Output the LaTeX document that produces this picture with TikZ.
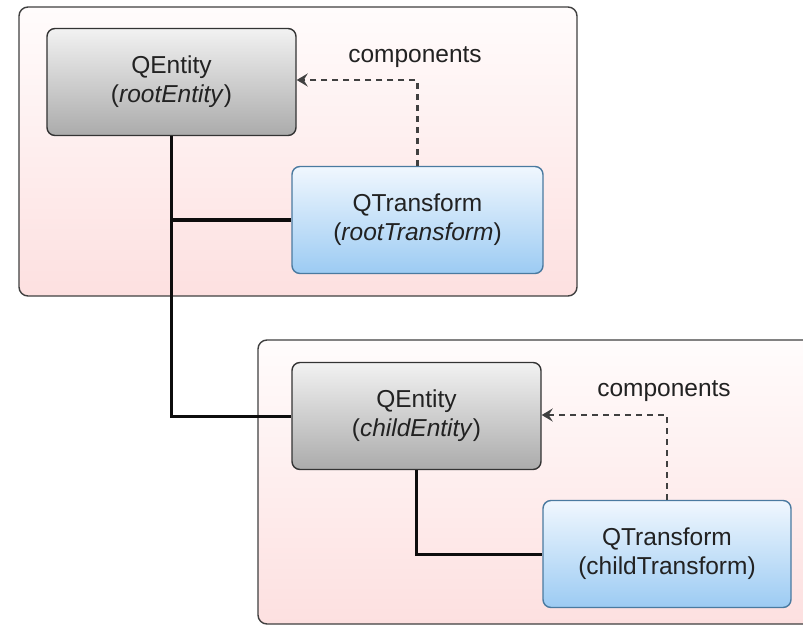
\documentclass[tikz,border=0pt]{standalone}
\usepackage{fontspec}
\setmainfont{Liberation Sans}
\usetikzlibrary{arrows.meta}
\definecolor{txt}{HTML}{222222}
\definecolor{greytop}{HTML}{F2F2F2}
\definecolor{greybot}{HTML}{ABABAB}
\definecolor{bluetop}{HTML}{F0F7FE}
\definecolor{bluebot}{HTML}{9CCBF3}
\definecolor{blueline}{HTML}{4A7AA0}
\definecolor{pinktop}{HTML}{FFFCFC}
\definecolor{pinkbot}{HTML}{FDE0E0}
\tikzset{
  frame/.style={draw=black!75, line width=1.4bp, rounded corners=9bp, top color=pinktop, bottom color=pinkbot},
  entitybox/.style={draw=black!80, line width=1.4bp, rounded corners=8bp, top color=greytop, bottom color=greybot,
    minimum width=249bp, minimum height=107bp, align=center, text=txt, inner sep=0pt,
    font=\fontsize{24.5bp}{29bp}\selectfont},
  transformbox/.style={entitybox, draw=blueline, top color=bluetop, bottom color=bluebot},
  link/.style={line width=3bp, draw=black!95},
  compdash/.style={line width=2.4bp, draw=black!75, dash pattern=on 6bp off 5bp, -{Stealth[length=11bp,width=13bp,inset=4bp]}},
  complabel/.style={text=txt, font=\fontsize{24.5bp}{29bp}\selectfont, inner sep=0pt}
}
\begin{document}
\begin{tikzpicture}[x=1bp,y=-1bp]
\clip (0,0) rectangle (803,626);
\fill[white] (0,0) rectangle (803,626);
% frames
\path[frame] (19,7) rectangle (577,296);
\path[frame] (258,340) rectangle (830,624);
% nodes
\node[entitybox] (re) at (171.5,82) {QEntity\\(\textit{rootEntity})};
\node[transformbox, minimum width=251bp] (rt) at (417.5,220) {QTransform\\(\textit{rootTransform})};
\node[entitybox] (ce) at (416.5,416) {QEntity\\(\textit{childEntity})};
\node[transformbox, minimum width=248bp] (ct) at (667,554) {QTransform\\(childTransform)};
\coordinate (rc) at (rt.north |- 0,80);
\coordinate (cc) at (ct.north |- 0,415);
\node[complabel, anchor=base] (rl) at (415,63) {components};
\node[complabel, anchor=base] (cl) at (664,396) {components};
% connectors
\draw[link] (re.south) |- (rt.west);
\draw[link] (re.south) |- (ce.west);
\draw[link] (ce.south) |- (ct.west);
\draw[compdash] (rt.north) -- (rc) -- (rc -| re.east);
\draw[compdash] (ct.north) -- (cc) -- (cc -| ce.east);
\end{tikzpicture}
\end{document}
